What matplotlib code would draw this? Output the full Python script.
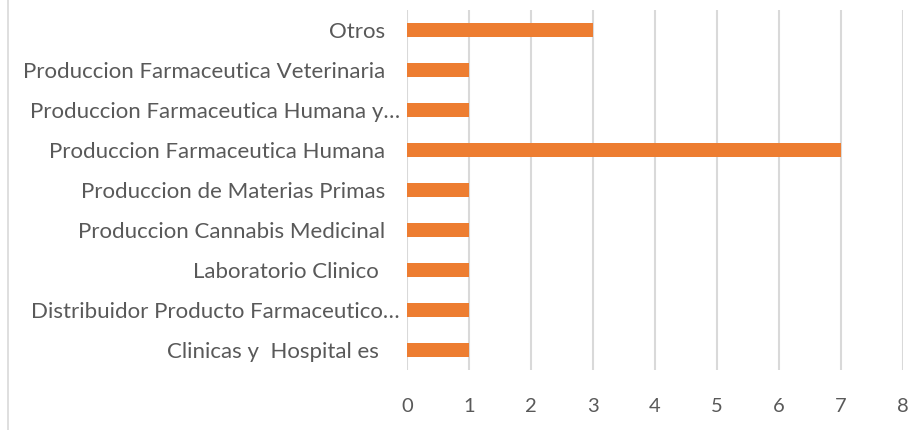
import matplotlib.pyplot as plt
from matplotlib.lines import Line2D
from matplotlib.transforms import ScaledTranslation

# categories listed bottom to top, as excel draws them
categorias = [
    'Clinicas y  Hospital es ',
    'Distribuidor Producto Farmaceutico…',
    'Laboratorio Clinico ',
    'Produccion Cannabis Medicinal',
    'Produccion de Materias Primas',
    'Produccion Farmaceutica Humana',
    'Produccion Farmaceutica Humana y…',
    'Produccion Farmaceutica Veterinaria',
    'Otros',
]
cantidad = [1, 1, 1, 1, 1, 7, 1, 1, 3]
ticks_x = [0, 1, 2, 3, 4, 5, 6, 7, 8]

plt.rcParams['font.family'] = ['Lato', 'DejaVu Sans']

fig = plt.figure(figsize=(9.2, 4.3), dpi=100)
ax = fig.add_axes([0.4424, 0.1395, 0.5391, 0.8372])

pos = list(range(len(categorias)))
ax.barh(pos, cantidad, height=0.35, color='#ED7D31', zorder=3)

ax.set_xlim(0, 8)
ax.set_ylim(-0.5, len(categorias) - 0.5)
ax.set_xticks(ticks_x)
ax.set_yticks(pos)
ax.set_yticklabels(categorias)
ax.grid(axis='x', color='#d9d9d9', linewidth=1.5, zorder=0)
ax.grid(axis='y', visible=False)
for s in ax.spines.values():
    s.set_visible(False)
ax.tick_params(axis='both', length=0, labelsize=16, labelcolor='#595959')
ax.tick_params(axis='x', labelsize=14.5, pad=20)
ax.tick_params(axis='y', pad=16)

# excel pushes the cut-off labels a bit closer to the axis
for lbl in ax.get_yticklabels():
    if lbl.get_text().endswith('…'):
        lbl.set_transform(lbl.get_transform() + ScaledTranslation(11 / 72, 0, fig.dpi_scale_trans))

# chart frame edge on the left
fig.add_artist(Line2D([8 / 920, 8 / 920], [0, 1], color='#d9d9d9', linewidth=1.2))

fig.savefig('out.png', dpi=100)
